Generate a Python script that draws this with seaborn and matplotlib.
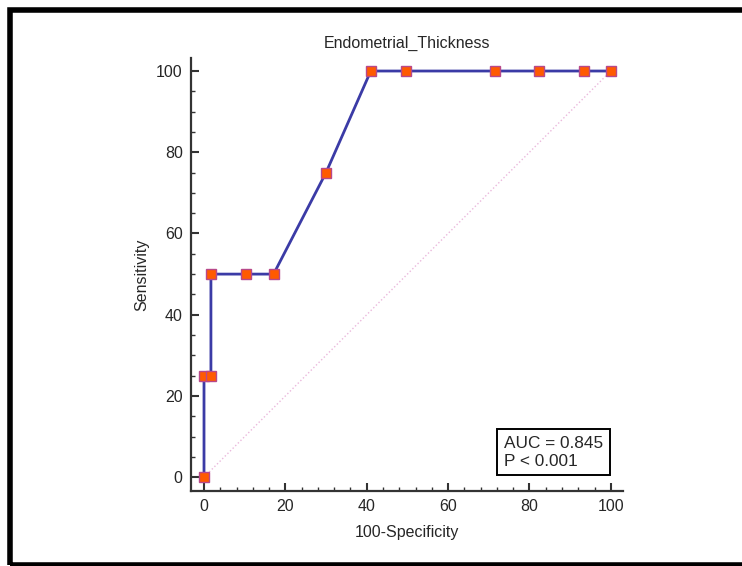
import matplotlib
matplotlib.use("Agg")
from matplotlib import pyplot as plt
from matplotlib.patches import Rectangle
from matplotlib.ticker import MultipleLocator
import seaborn as sns
import pandas as pd

# ROC points
fpr = [0, 0, 1.7, 1.7, 10.3, 17.1, 30.0, 41.0, 49.7, 71.6, 82.4, 93.3, 100]
tpr = [0, 25, 25, 50, 50, 50, 75, 100, 100, 100, 100, 100, 100]
diag = [0, 100]
title = "Endometrial_Thickness"
auc_text = "AUC = 0.845\nP < 0.001"

sns.set_style("white")
plt.rcParams['font.family'] = ['Liberation Sans', 'DejaVu Sans']

df = pd.DataFrame({'fpr': fpr, 'tpr': tpr})

fig = plt.figure(figsize=(7.42, 5.66), dpi=100)
ax = fig.add_axes([0.2574, 0.1325, 0.5822, 0.765])

# reference diagonal
sns.lineplot(x=diag, y=diag, ax=ax, color='#eab8dc', linestyle=':', linewidth=1.0)

# ROC curve
sns.lineplot(data=df, x='fpr', y='tpr', sort=False, estimator=None, ax=ax,
             color='#3b3ba6', linewidth=2.0, marker='s', markersize=7.2,
             markerfacecolor='#ff5a00', markeredgecolor='#b8488a', markeredgewidth=1.0)

ax.set_xlim(-3.2, 103)
ax.set_ylim(-3.4, 103.2)
ax.xaxis.set_major_locator(MultipleLocator(20))
ax.xaxis.set_minor_locator(MultipleLocator(4))
ax.yaxis.set_major_locator(MultipleLocator(20))
ax.yaxis.set_minor_locator(MultipleLocator(5))
ax.tick_params(which='major', direction='in', length=6, width=1.5, color='#333333',
               labelsize=11.5, pad=6, left=True, bottom=True)
ax.tick_params(which='minor', direction='in', length=3, width=1.0, color='#333333',
               left=True, bottom=True)

for side in ['top', 'right']:
    ax.spines[side].set_visible(False)
for side in ['left', 'bottom']:
    ax.spines[side].set_color('#333333')
    ax.spines[side].set_linewidth(1.6)

ax.set_title(title, fontsize=11.5, pad=7)
ax.set_xlabel("100-Specificity", fontsize=11.5, labelpad=8)
ax.set_ylabel("Sensitivity", fontsize=11.5, labelpad=5)

ax.text(0.7245, 0.09, auc_text, transform=ax.transAxes, fontsize=12.4, ha='left', va='center',
        linespacing=1.25,
        bbox=dict(boxstyle='square,pad=0.4', facecolor='white', edgecolor='black', linewidth=1.4))

# black outer frame of the screenshot
fig.patches.append(Rectangle((10 / 742, 1.5 / 566), 1.1, 1 - 11 / 566, transform=fig.transFigure,
                             fill=False, edgecolor='black', linewidth=4.0, figure=fig))

fig.savefig('out.png', dpi=100)
